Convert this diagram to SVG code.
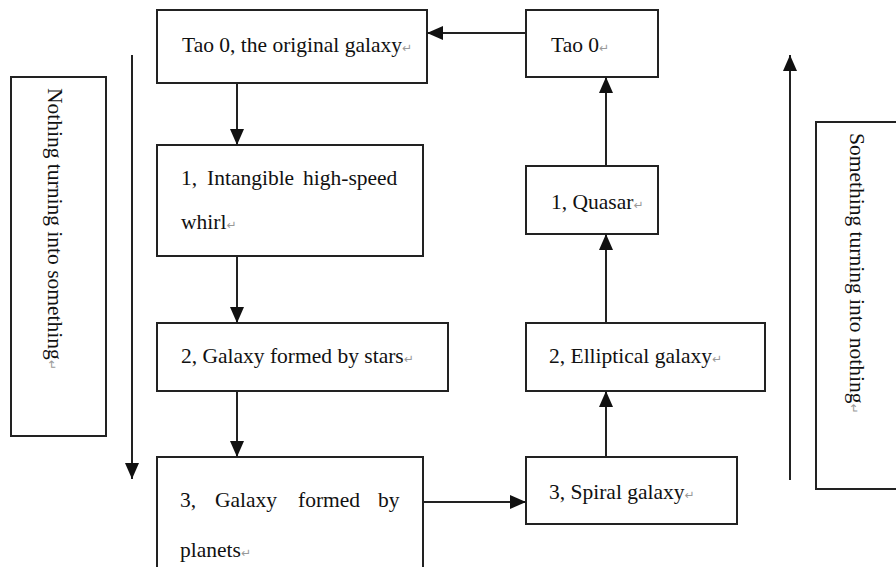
<svg xmlns="http://www.w3.org/2000/svg" width="896" height="567" viewBox="0 0 896 567">
<defs>
<marker id="ah" markerUnits="userSpaceOnUse" markerWidth="16" markerHeight="14" refX="16" refY="7" orient="auto">
<path d="M0,0 L16,7 L0,14 z" fill="#111"/>
</marker>
<style>
.box{fill:#fff;stroke:#222;stroke-width:2}
.t{font-family:'Liberation Serif','DejaVu Serif',serif;font-size:21.5px;fill:#111}
.rm{fill:#999;font-family:'DejaVu Sans',sans-serif;font-size:12px}
.c{stroke:#222;stroke-width:2;fill:none;marker-end:url(#ah)}
</style>
</defs>
<rect width="896" height="567" fill="#fff"/>

<g id="nothing-label">
<rect class="box" x="11" y="77" width="95" height="359"/>
<text class="t" font-family="Liberation Serif, serif" transform="translate(48,88) rotate(90)">Nothing turning into something<tspan class="rm">↵</tspan></text>
</g>

<g id="something-label">
<rect class="box" x="816" y="122" width="90" height="367"/>
<text class="t" font-family="Liberation Serif, serif" transform="translate(850,133) rotate(90)">Something turning into nothing<tspan class="rm">↵</tspan></text>
</g>

<g id="tao0-original">
<rect class="box" x="157" y="10" width="270" height="73"/>
<text class="t" font-family="Liberation Serif, serif" x="182" y="52">Tao 0, the original galaxy<tspan class="rm">↵</tspan></text>
</g>

<g id="whirl">
<rect class="box" x="157" y="145" width="266" height="111"/>
<text class="t" font-family="Liberation Serif, serif" y="185"><tspan x="181">1,</tspan><tspan x="207">Intangible</tspan><tspan x="303">high-speed</tspan></text>
<text class="t" font-family="Liberation Serif, serif" x="181" y="229">whirl<tspan class="rm">↵</tspan></text>
</g>

<g id="stars">
<rect class="box" x="157" y="323" width="291" height="68"/>
<text class="t" font-family="Liberation Serif, serif" x="181" y="363">2, Galaxy formed by stars<tspan class="rm">↵</tspan></text>
</g>

<g id="planets">
<rect class="box" x="157" y="457" width="266" height="120"/>
<text class="t" font-family="Liberation Serif, serif" y="507"><tspan x="180">3,</tspan><tspan x="215">Galaxy</tspan><tspan x="298">formed</tspan><tspan x="378">by</tspan></text>
<text class="t" font-family="Liberation Serif, serif" x="180" y="557">planets<tspan class="rm">↵</tspan></text>
</g>

<g id="tao0">
<rect class="box" x="526" y="10" width="132" height="67"/>
<text class="t" font-family="Liberation Serif, serif" x="551" y="52">Tao 0<tspan class="rm">↵</tspan></text>
</g>

<g id="quasar">
<rect class="box" x="526" y="166" width="132" height="68"/>
<text class="t" font-family="Liberation Serif, serif" x="551" y="209">1, Quasar<tspan class="rm">↵</tspan></text>
</g>

<g id="elliptical">
<rect class="box" x="526" y="323" width="239" height="68"/>
<text class="t" font-family="Liberation Serif, serif" x="549" y="363">2, Elliptical galaxy<tspan class="rm">↵</tspan></text>
</g>

<g id="spiral">
<rect class="box" x="526" y="457" width="211" height="67"/>
<text class="t" font-family="Liberation Serif, serif" x="549" y="499">3, Spiral galaxy<tspan class="rm">↵</tspan></text>
</g>

<g id="connectors">
<line class="c" x1="526" y1="33" x2="427" y2="33"/>
<line class="c" x1="237" y1="83" x2="237" y2="145"/>
<line class="c" x1="237" y1="256" x2="237" y2="323"/>
<line class="c" x1="237" y1="391" x2="237" y2="457"/>
<line class="c" x1="423" y1="502" x2="526" y2="502"/>
<line class="c" x1="606" y1="457" x2="606" y2="391"/>
<line class="c" x1="606" y1="323" x2="606" y2="234"/>
<line class="c" x1="606" y1="166" x2="606" y2="77"/>
<line class="c" x1="132" y1="55" x2="132" y2="479"/>
<line class="c" x1="790" y1="480" x2="790" y2="55"/>
</g>
</svg>
